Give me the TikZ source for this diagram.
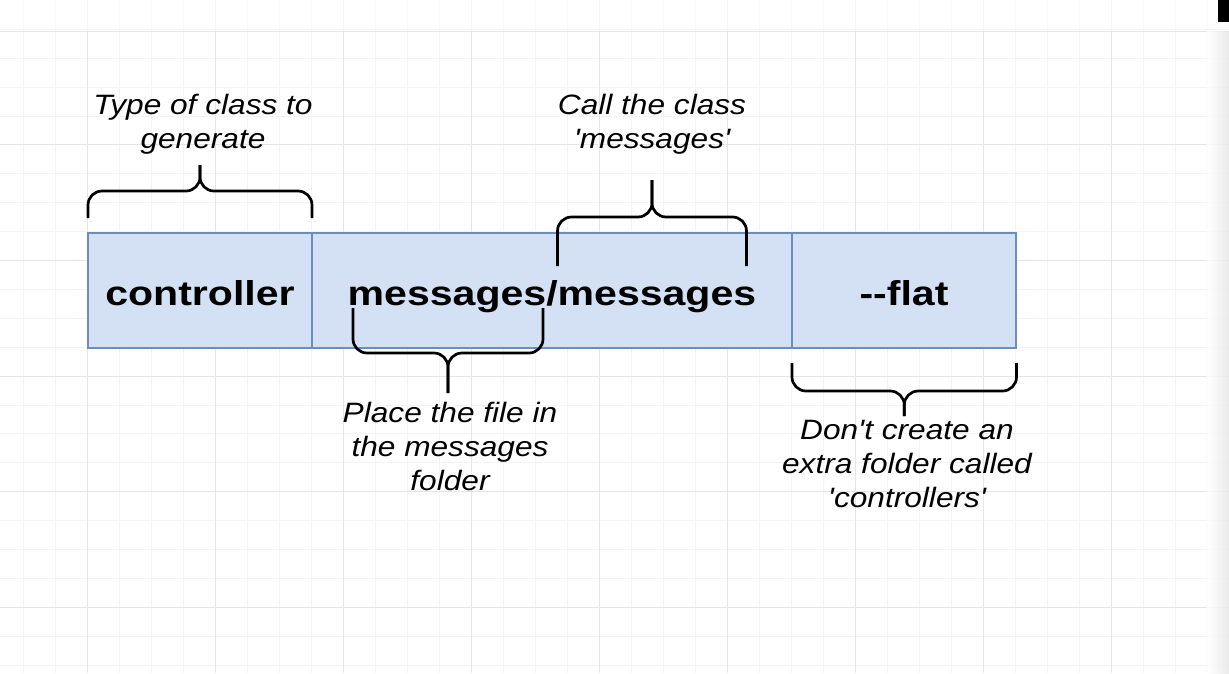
\documentclass[tikz,border=0pt]{standalone}
\usepackage{fontspec}
\setmainfont{Liberation Sans}
\newfontfamily\boxfont[FakeStretch=1.19]{Liberation Sans}
\newfontfamily\notefont[FakeStretch=1.13]{Liberation Sans}
\definecolor{boxfill}{HTML}{D4E1F5}
\definecolor{boxline}{HTML}{6C8EBF}
\definecolor{gridminor}{HTML}{F3F3F3}
\definecolor{gridmajor}{HTML}{E6E6E6}
\newcommand\curly[5]{%
  \draw[bracestroke] (#1,#3) -- (#1,#4) -- ({(#1+#2)/2},#4) -- ({(#1+#2)/2},#5);
  \draw[bracestroke] (#2,#3) -- (#2,#4) -- ({(#1+#2)/2},#4) -- ({(#1+#2)/2},#5);}
\begin{document}
\begin{tikzpicture}[x=1pt,y=-1pt,
  cell/.style={draw=boxline, fill=boxfill, line width=2.6pt, inner sep=0pt,
    minimum height=115pt, text height=29pt, text depth=0pt,
    font=\boxfont\bfseries\fontsize{34.5}{41}\selectfont},
  note/.style={align=center, inner sep=0pt, anchor=base,
    font=\notefont\itshape\fontsize{28}{33.8}\selectfont},
  bracestroke/.style={draw=black, line width=2.7pt, rounded corners=14pt},
  gminor/.style={draw=gridminor, line width=0.9pt},
  gmajor/.style={draw=gridmajor, line width=1.1pt}]
\useasboundingbox (0,0) rectangle (1229,673);
\fill[white] (0,0) rectangle (1229,673);
% grid
\foreach \i in {0,...,37} {\draw[gminor] ({23.3+32*\i},0) -- ({23.3+32*\i},673);}
\foreach \j in {0,...,22} {\draw[gminor] (0,{29.3+28.9*\j}) -- (1229,{29.3+28.9*\j});}
\foreach \i in {0,...,8} {\draw[gmajor] ({87.3+128*\i},0) -- ({87.3+128*\i},673);}
\foreach \j in {0,...,5} {\draw[gmajor] (0,{29.3+115.6*\j}) -- (1229,{29.3+115.6*\j});}
% toolbar strip and right edge
\fill[white, opacity=0.6] (0,0) rectangle (1229,30);
\draw[gridmajor, line width=1pt] (0,31) -- (1229,31);
\shade[left color=white, right color=black!10, opacity=0.8] (1207,31) rectangle (1229,673);
\fill[black] (1218,0) rectangle (1229,22);
% boxes
\node[cell, minimum width=224pt] (ctrl) at (200,290.5) {controller};
\node[cell, minimum width=480pt] (msg) at (552,290.5) {messages/messages};
\node[cell, minimum width=224pt] (flat) at (904,290.5) {--flat};
% braces
\curly{88}{312}{218}{191}{165}
\curly{557.5}{746.5}{266}{217}{180}
\curly{353}{543}{308}{353}{393}
\curly{792}{1016.5}{363}{391}{416}
% notes (base = baseline of the last line)
\node[note] (type) at (203,148) {Type of class to\\generate};
\node[note] (call) at (652,148) {Call the class\\'messages'};
\node[note] (place) at (450,490) {Place the file in\\the messages\\folder};
\node[note] (dont) at (907,507) {Don't create an\\extra folder called\\'controllers'};
\end{tikzpicture}
\end{document}
